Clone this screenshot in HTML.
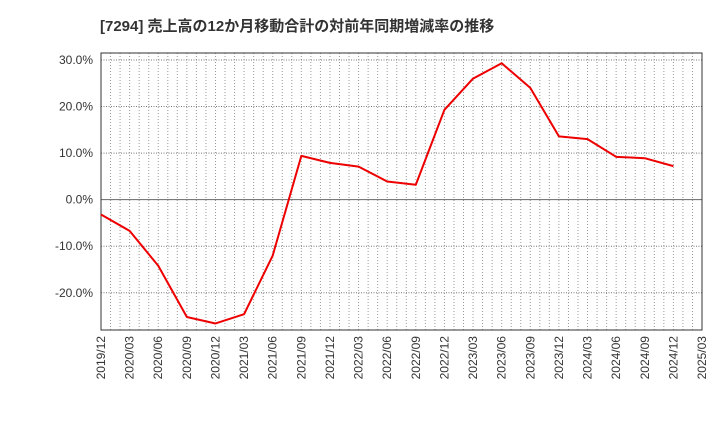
<!DOCTYPE html>
<html><head><meta charset="utf-8"><style>
body{margin:0;background:#fff;}
svg text{font-family:"Liberation Sans","Noto Sans CJK JP",sans-serif;}
</style></head><body>
<svg id="c" width="720" height="440" xmlns="http://www.w3.org/2000/svg">
<text x="100" y="31" font-size="15" font-weight="bold" fill="#333">[7294]  売上高の12か月移動合計の対前年同期増減率の推移</text>
<g id="grid"></g><g id="axes"></g><g id="series"></g>
</svg>
<script>
const categories=["2019/12","2020/03","2020/06","2020/09","2020/12","2021/03","2021/06","2021/09","2021/12","2022/03","2022/06","2022/09","2022/12","2023/03","2023/06","2023/09","2023/12","2024/03","2024/06","2024/09","2024/12"];
const xTickLabels=["2019/12","2020/03","2020/06","2020/09","2020/12","2021/03","2021/06","2021/09","2021/12","2022/03","2022/06","2022/09","2022/12","2023/03","2023/06","2023/09","2023/12","2024/03","2024/06","2024/09","2024/12","2025/03"];
const values=[-3.2,-6.7,-14.2,-25.2,-26.6,-24.6,-12.0,9.4,7.9,7.1,3.9,3.2,19.3,26.0,29.3,24.0,13.6,13.0,9.2,8.9,7.2];
const yTicks=[30,20,10,0,-10,-20];
const L=101,R=702,T=53,B=330,yMax=31.5,yMin=-28.0;
const nQ=xTickLabels.length-1;
const x=i=>L+(R-L)*i/nQ;
const y=v=>T+(B-T)*(yMax-v)/(yMax-yMin);
const NS="http://www.w3.org/2000/svg";
function mk(tag,attrs,parent){const e=document.createElementNS(NS,tag);for(const k in attrs)e.setAttribute(k,attrs[k]);parent.appendChild(e);return e;}
const grid=document.getElementById('grid'),axes=document.getElementById('axes'),series=document.getElementById('series');
for(let m=1;m<nQ*3;m++){const xx=L+(R-L)*m/(nQ*3);
const g=mk('line',{x1:xx,x2:xx,y1:T,y2:B,stroke:'#999','stroke-width':1,'stroke-dasharray':'1,2'},grid);

}
yTicks.forEach(v=>{const yy=y(v);
const g=mk('line',{x1:L,x2:R,y1:yy,y2:yy,stroke:v===0?'#666':'#777','stroke-width':1,'stroke-dasharray':v===0?'':'1,1.5'},grid);


const t=mk('text',{x:L-8,y:yy+4,'font-size':12,'text-anchor':'end',fill:'#333'},axes);t.textContent=v.toFixed(1)+'%';

});
const fr=mk('rect',{x:L,y:T,width:R-L,height:B-T,fill:'none',stroke:'#333','stroke-width':1},axes);


xTickLabels.forEach((s,i)=>{const xx=x(i);
const t=mk('text',{x:0,y:0,'font-size':12,'text-anchor':'end',fill:'#333',transform:`translate(${xx+4},${B+6}) rotate(-90)`},axes);t.textContent=s;

});
const p=mk('polyline',{points:values.map((v,i)=>x(i)+','+y(v)).join(' '),fill:'none',stroke:'#e00','stroke-width':2,'stroke-linejoin':'round'},series);


</script>
</body></html>
